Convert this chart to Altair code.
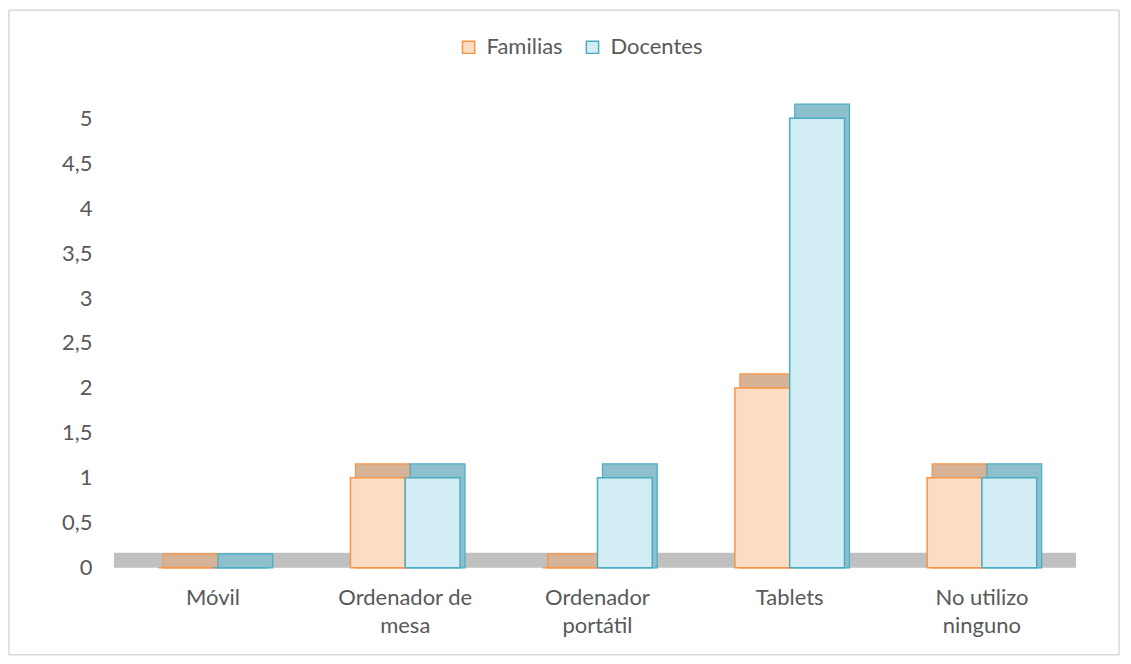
import altair as alt
import pandas as pd

categorias = ["Móvil", "Ordenador de mesa", "Ordenador portátil", "Tablets", "No utilizo ninguno"]
etiquetas = [["Móvil"], ["Ordenador de", "mesa"], ["Ordenador", "portátil"], ["Tablets"], ["No utilizo", "ninguno"]]
series = ["Familias", "Docentes"]
familias = [0, 1, 0, 2, 1]
docentes = [0, 1, 1, 5, 1]
y_ticks = [0, 0.5, 1, 1.5, 2, 2.5, 3, 3.5, 4, 4.5, 5]

fill_front = ["#FCDDC4", "#D2EDF4"]
stroke_col = ["#F79646", "#4BACC6"]
fill_back = ["#D6B296", "#8DBFCC"]

rows = []
for c, f, d in zip(categorias, familias, docentes):
    rows.append({"categoria": c, "serie": "Familias", "valor": f})
    rows.append({"categoria": c, "serie": "Docentes", "valor": d})
df = pd.DataFrame(rows)

W, H = 962, 450
FONT = "Lato"
GRAY = "#595959"
FS = 22

label_expr = "datum.value"
for c, lab in reversed(list(zip(categorias, etiquetas))):
    arr = "[" + ", ".join("'" + s + "'" for s in lab) + "]"
    label_expr = f"datum.value == '{c}' ? {arr} : ({label_expr})"

band = dict(paddingInner=0.43, paddingOuter=0.215)

x_front = alt.X(
    "categoria:N",
    sort=categorias,
    scale=alt.Scale(**band),
    axis=alt.Axis(
        title=None, labelAngle=0, domain=False, ticks=False, grid=False,
        labelExpr=label_expr, labelPadding=20, labelLineHeight=28,
        labelFont=FONT, labelFontSize=FS, labelColor=GRAY,
    ),
)
x_back = alt.X(
    "categoria:N",
    sort=categorias,
    scale=alt.Scale(range=[5, W + 5], **band),
    axis=None,
)
xoff = alt.XOffset("serie:N", sort=series)
y_enc = alt.Y(
    "valor:Q",
    scale=alt.Scale(domain=[0, 5], nice=False),
    axis=alt.Axis(
        title=None, values=y_ticks, domain=False, ticks=False, grid=False,
        labelExpr="replace(toString(datum.value), '.', ',')",
        labelPadding=25, labelFont=FONT, labelFontSize=FS, labelColor=GRAY,
    ),
)

border = alt.Chart(alt.Data(values=[{}])).mark_rect(
    filled=False, stroke="#D9D9D9", strokeWidth=1.5
).encode(
    x=alt.value(-108), x2=alt.value(W + 41),
    y=alt.value(-108), y2=alt.value(H + 87),
)

floor = alt.Chart(alt.Data(values=[{}])).mark_rect(
    color="#C0C0C0"
).encode(
    x=alt.value(-3), x2=alt.value(W - 2),
    y=alt.value(H), y2=alt.value(H - 15),
)

is_fam = "datum.serie == 'Familias'"

back = alt.Chart(df).mark_bar(yOffset=-14, strokeWidth=1.2).encode(
    x=x_back, xOffset=xoff, y=y_enc, y2=alt.datum(0),
    fill=alt.condition(is_fam, alt.value(fill_back[0]), alt.value(fill_back[1])),
    stroke=alt.condition(is_fam, alt.value(stroke_col[0]), alt.value(stroke_col[1])),
)

front = alt.Chart(df).mark_bar(strokeWidth=1.5).encode(
    x=x_front, xOffset=xoff, y=y_enc,
    fill=alt.Fill(
        "serie:N", sort=series,
        scale=alt.Scale(domain=series, range=fill_front),
        legend=alt.Legend(
            title=None, orient="none", direction="horizontal",
            legendX=341, legendY=-82, symbolType="square", symbolSize=150,
            symbolStrokeWidth=1.5, labelFont=FONT, labelFontSize=FS,
            labelColor=GRAY, labelOffset=7, columnPadding=18,
        ),
    ),
    stroke=alt.Stroke(
        "serie:N", sort=series,
        scale=alt.Scale(domain=series, range=stroke_col),
    ),
)

chart = alt.layer(border, floor, back, front).resolve_scale(
    x="independent", xOffset="independent"
).properties(
    width=W, height=H,
    autosize=alt.AutoSizeParams(type="none"),
    padding={"left": 109, "top": 110, "right": 45, "bottom": 92},
).configure_view(stroke=None)

chart.save("out.html", embed_options={"renderer": "svg", "actions": False})
